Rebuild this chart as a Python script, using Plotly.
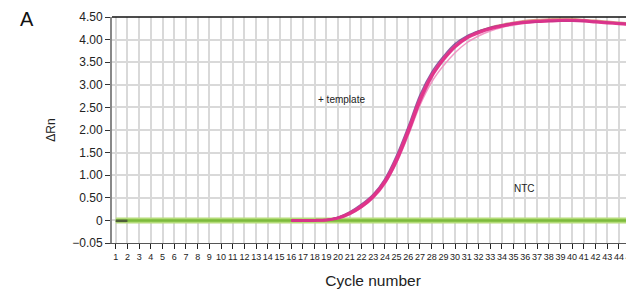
import plotly.graph_objects as go

# ---- data ----
cycles_all = list(range(1, 46))
cycles_tmpl = list(range(16, 46))

tmpl_a = [0.00, 0.00, 0.00, 0.01, 0.06, 0.17, 0.33, 0.55, 0.88, 1.38, 2.02, 2.70, 3.22, 3.58, 3.86,
          4.05, 4.17, 4.25, 4.31, 4.36, 4.39, 4.41, 4.42, 4.43, 4.43, 4.42, 4.40, 4.38, 4.36, 4.34]
tmpl_b = [0.00, 0.00, 0.00, 0.01, 0.05, 0.15, 0.30, 0.52, 0.84, 1.32, 1.95, 2.64, 3.18, 3.55, 3.84,
          4.03, 4.15, 4.24, 4.30, 4.35, 4.38, 4.40, 4.41, 4.42, 4.42, 4.41, 4.39, 4.37, 4.35, 4.33]
tmpl_c = [0.00, 0.00, 0.00, 0.01, 0.07, 0.19, 0.36, 0.58, 0.92, 1.44, 2.08, 2.78, 3.28, 3.63, 3.91,
          4.08, 4.19, 4.27, 4.32, 4.36, 4.39, 4.40, 4.41, 4.42, 4.42, 4.41, 4.40, 4.38, 4.36, 4.34]
tmpl_d = [0.00, 0.00, 0.00, 0.00, 0.04, 0.13, 0.28, 0.49, 0.80, 1.27, 1.88, 2.55, 3.06, 3.42, 3.71,
          3.93, 4.08, 4.19, 4.27, 4.32, 4.36, 4.39, 4.40, 4.41, 4.41, 4.40, 4.39, 4.37, 4.35, 4.33]
tmpl_e = [0.00, 0.00, 0.00, 0.01, 0.06, 0.16, 0.32, 0.54, 0.87, 1.36, 2.00, 2.70, 3.20, 3.56, 3.85,
          4.05, 4.18, 4.27, 4.33, 4.38, 4.42, 4.44, 4.45, 4.46, 4.46, 4.44, 4.42, 4.40, 4.38, 4.36]

ntc_1 = [0.00, 0.00, 0.00, 0.00, 0.00, 0.00, 0.00, 0.00, 0.00, 0.00, 0.00, 0.00, 0.00, 0.00, 0.00,
         0.00, 0.00, 0.00, 0.00, 0.00, 0.00, 0.00, 0.00, 0.00, 0.00, 0.00, 0.00, 0.00, 0.00, 0.00,
         0.00, 0.00, 0.00, 0.00, 0.00, 0.00, 0.00, 0.00, 0.00, 0.00, 0.00, 0.00, 0.00, 0.00, 0.00]
ntc_dark_cycles = [1, 2]
ntc_dark = [-0.01, -0.01]

ytick_vals = [-0.5, 0, 0.5, 1.0, 1.5, 2.0, 2.5, 3.0, 3.5, 4.0, 4.5]
ytick_text = ["\u22120.05", "0", "0.50", "1.00", "1.50", "2.00", "2.50", "3.00", "3.50", "4.00", "4.50"]

FONT = "Liberation Sans, Arial, Helvetica, sans-serif"

fig = go.Figure()

# NTC (green band)
fig.add_trace(go.Scatter(x=cycles_all, y=ntc_1, mode="lines",
                         line=dict(color="#b5dc7a", width=6), hoverinfo="skip"))
fig.add_trace(go.Scatter(x=cycles_all, y=ntc_1, mode="lines",
                         line=dict(color="#7dbb3c", width=2.5), hoverinfo="skip"))
fig.add_trace(go.Scatter(x=ntc_dark_cycles, y=ntc_dark, mode="lines",
                         line=dict(color="#4f5f3a", width=2.5), hoverinfo="skip"))

# template replicates
for vals, col, w, op in [
    (tmpl_d, "#f08cbf", 1.5, 0.9),
    (tmpl_e, "#c9705a", 2, 0.7),
    (tmpl_b, "#dd2a85", 3, 0.9),
    (tmpl_c, "#6f3a8c", 1.5, 0.8),
    (tmpl_a, "#e5348c", 2.5, 0.85),
]:
    fig.add_trace(go.Scatter(x=cycles_tmpl, y=vals, mode="lines", opacity=op,
                             line=dict(color=col, width=w, shape="spline"), hoverinfo="skip"))

fig.add_annotation(x=20.26, y=2.68, text="+ template", showarrow=False,
                   font=dict(family=FONT, size=10, color="#222"))
fig.add_annotation(x=35.9, y=0.71, text="NTC", showarrow=False,
                   font=dict(family=FONT, size=10, color="#222"))
fig.add_annotation(x=-0.163, y=0.99, xref="paper", yref="paper", text="A", showarrow=False,
                   xanchor="center", yanchor="middle",
                   font=dict(family=FONT, size=20, color="#111"))

# page body has an 8px margin, so the figure is sized/offset to compensate
fig.update_layout(
    width=626, height=281,
    margin=dict(l=104, r=0, t=9, b=46, autoexpand=False),
    paper_bgcolor="white", plot_bgcolor="white",
    showlegend=False,
    font=dict(family=FONT, color="#222"),
    xaxis=dict(
        range=[0.68, 45.29], tickmode="array", tickvals=cycles_all,
        ticktext=[str(c) for c in cycles_all], tickangle=0, automargin=False,
        ticklabeloverflow="allow",
        tickfont=dict(family=FONT, size=9, color="#222"),
        ticks="outside", ticklen=5, tickcolor="#222", tickwidth=1,
        showgrid=True, gridcolor="#d9d9d9", gridwidth=2,
        showline=True, linecolor="#555", linewidth=1,
        mirror=False, zeroline=False,
        title=dict(text="Cycle number", font=dict(family=FONT, size=15.5, color="#222"), standoff=14),
    ),
    yaxis=dict(
        range=[-0.5, 4.5], tickmode="array", tickvals=ytick_vals, ticktext=ytick_text,
        tickfont=dict(family=FONT, size=12, color="#222"), automargin=False,
        ticks="outside", ticklen=5, tickcolor="#333", tickwidth=1,
        showgrid=True, gridcolor="#d9d9d9", gridwidth=2,
        showline=True, linecolor="#888", linewidth=2,
        zeroline=False,
        title=dict(text="\u0394Rn", font=dict(family=FONT, size=12, color="#222"), standoff=14),
    ),
    shapes=[dict(type="line", xref="paper", yref="paper", x0=0, x1=1, y0=1, y1=1,
                 line=dict(color="#111", width=1.5))],
)

fig.write_html("out.html")
